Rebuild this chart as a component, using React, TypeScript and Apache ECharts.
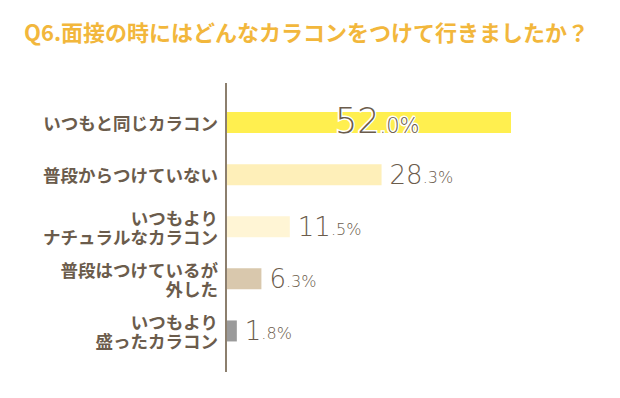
import React, { useEffect, useRef } from "react";
import * as echarts from "echarts";

const titleText = "Q6.面接の時にはどんなカラコンをつけて行きましたか？";
const categories = [
  "いつもと同じカラコン",
  "普段からつけていない",
  "いつもより\nナチュラルなカラコン",
  "普段はつけているが\n外した",
  "いつもより\n盛ったカラコン",
];
const values = [52.0, 28.3, 11.5, 6.3, 1.8];
const barColors = ["#FFEF4F", "#FEEFB9", "#FFF5D5", "#D9C8AD", "#9A9A9A"];

const TEXT = "#6B5C4C";
const NUM_FONT = "DejaVu Sans";

function splitValue(v: number): [string, string] {
  const s = v.toFixed(1);
  const [i, d] = s.split(".");
  return [i, "." + d + "%"];
}

export default function App() {
  const ref = useRef<HTMLDivElement>(null);
  useEffect(() => {
    if (!ref.current) return;
    const chart = echarts.init(ref.current, undefined, { renderer: "svg" });
    const data = values.map((v, idx) => {
      const item: any = { value: v, itemStyle: { color: barColors[idx] } };
      if (idx === 0) {
        item.label = {
          position: [108, 8.5],
          verticalAlign: "middle",
          rich: {
            a: {
              fontSize: 35,
              lineHeight: 35,
              fontFamily: NUM_FONT,
              fontWeight: 200,
              color: TEXT,
              verticalAlign: "bottom",
              textBorderColor: "#fff",
              textBorderWidth: 3,
            },
            b: {
              fontSize: 21,
              lineHeight: 21,
              fontFamily: NUM_FONT,
              fontWeight: 200,
              color: TEXT,
              verticalAlign: "bottom",
              padding: [0, 0, 2, 0],
              textBorderColor: "#fff",
              textBorderWidth: 3,
            },
          },
        };
      }
      return item;
    });
    chart.setOption({
      animation: false,
      title: {
        text: titleText,
        left: 19,
        top: 15,
        textStyle: {
          color: "#F2B73C",
          fontSize: 22,
          fontWeight: "bold",
          fontFamily: "Noto Sans CJK JP",
        },
      },
      grid: { left: 227, top: 96.5, height: 260.5, width: 327.7, containLabel: false },
      xAxis: {
        type: "value",
        min: 0,
        max: 60,
        show: false,
      },
      yAxis: {
        type: "category",
        data: categories,
        inverse: true,
        axisLine: { show: false },
        axisTick: { show: false },
        axisLabel: {
          margin: 9,
          color: TEXT,
          fontSize: 17.5,
          lineHeight: 19,
          fontWeight: "bold",
          fontFamily: "Noto Sans CJK JP",
          align: "right",
        },
      },
      series: [
        {
          type: "bar",
          data,
          barWidth: 21,
          label: {
            show: true,
            position: "right",
            distance: 8,
            formatter: (p: any) => {
              const [a, b] = splitValue(p.value);
              return `{a|${a}}{b|${b}}`;
            },
            rich: {
              a: {
                fontSize: 26,
                lineHeight: 26,
                fontFamily: NUM_FONT,
                fontWeight: 200,
                color: TEXT,
                verticalAlign: "bottom",
              },
              b: {
                fontSize: 16,
                lineHeight: 16,
                fontFamily: NUM_FONT,
                fontWeight: 200,
                color: TEXT,
                verticalAlign: "bottom",
                padding: [0, 0, 2, 0],
              },
            },
          },
        },
      ],
      graphic: [
        {
          type: "line",
          shape: { x1: 226, y1: 83, x2: 226, y2: 372 },
          style: { stroke: "#8C7F6E", lineWidth: 2 },
          z: 10,
        },
      ],
    });
    return () => chart.dispose();
  }, []);
  return (
    <div
      ref={ref}
      style={{ position: "fixed", left: 0, top: 0, width: 620, height: 398, background: "#fff" }}
    />
  );
}
